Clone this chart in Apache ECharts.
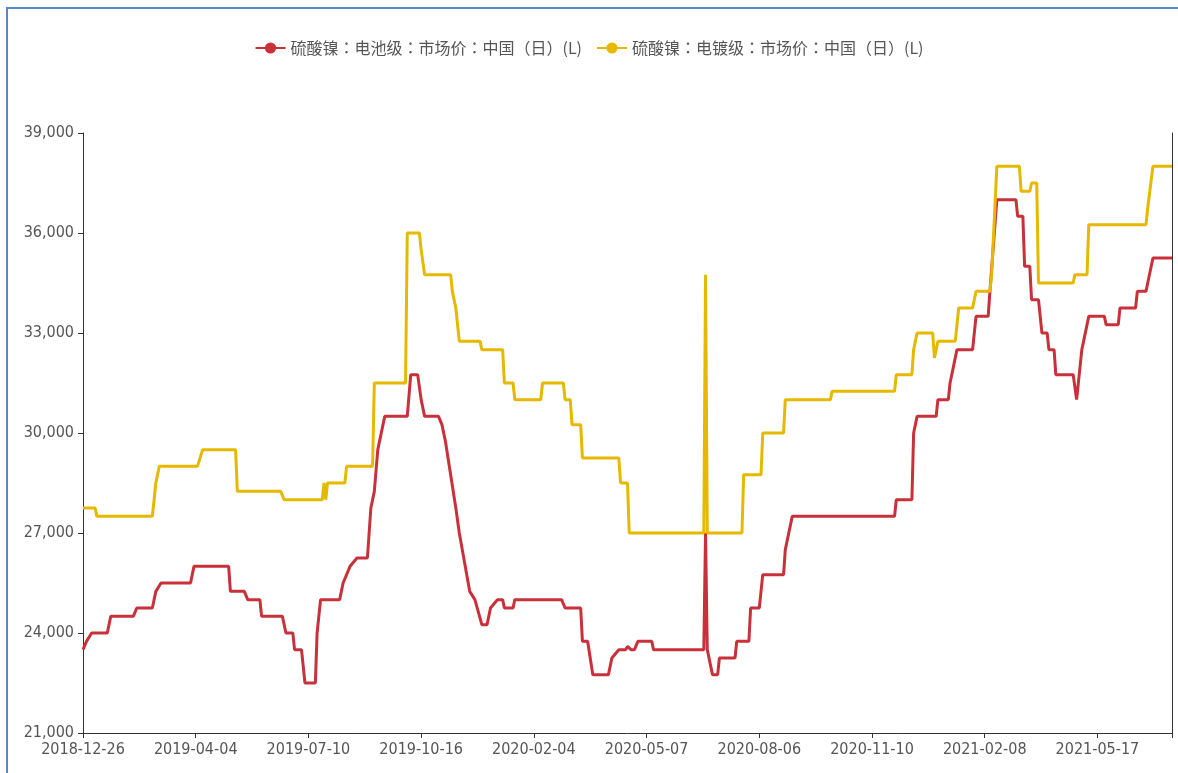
<!DOCTYPE html>
<html>
<head>
<meta charset="utf-8">
<script src="https://cdn.jsdelivr.net/npm/echarts@6/dist/echarts.min.js"></script>
<style>
html,body{margin:0;padding:0;background:#fff;}
#chart{position:absolute;left:0;top:0;width:1178px;height:773px;}
#frame{position:absolute;left:6px;top:7px;width:1200px;height:800px;border-left:2px solid #5b87c7;border-top:2px solid #5b87c7;pointer-events:none;}
</style>
</head>
<body>
<div id="chart"></div>
<div id="frame"></div>
<script>
// x = trading-day index from 2018-12-26; one tick label every 65 days
const tickStep = 65;
const tickLabels = ['2018-12-26','2019-04-04','2019-07-10','2019-10-16','2020-02-04','2020-05-07','2020-08-06','2020-11-10','2021-02-08','2021-05-17'];
const lastIndex = 628;
const seriesNames = ['硫酸镍：电池级：市场价：中国（日）(L)', '硫酸镍：电镀级：市场价：中国（日）(L)'];

// 电池级 [day index, price]
const batteryGrade = [
[0,23500],[2,23750],[5,24000],[14,24000],[16,24500],[29,24500],[31,24750],[40,24750],[42,25250],[43,25250],[45,25500],
[62,25500],[64,26000],[84,26000],[85,25250],[93,25250],[95,25000],[102,25000],[103,24500],[115,24500],[117,24000],
[121,24000],[122,23500],[126,23500],[128,22500],[134,22500],[135,24000],[137,25000],[148,25000],[150,25500],[154,26000],
[158,26250],[164,26250],[166,27750],[168,28250],[170,29500],[172,30000],[174,30500],[187,30500],[189,31750],[193,31750],
[195,31000],[197,30500],[205,30500],[207,30250],[209,29750],[215,27750],[217,27000],[223,25250],[226,25000],[230,24250],
[233,24250],[235,24750],[239,25000],[242,25000],[243,24750],[248,24750],[249,25000],[276,25000],[278,24750],[287,24750],
[288,23750],[291,23750],[294,22750],[303,22750],[305,23250],[309,23500],[313,23500],[314,23600],[316,23500],[318,23500],
[320,23750],[328,23750],[329,23500],[358,23500],[359,27000],[360,23500],[363,22750],[366,22750],[367,23250],[376,23250],
[377,23750],[384,23750],[385,24750],[390,24750],[392,25750],[404,25750],[405,26500],[409,27500],[468,27500],[469,28000],
[478,28000],[479,30000],[481,30500],[492,30500],[493,31000],[499,31000],[500,31500],[504,32500],[513,32500],[515,33500],
[522,33500],[523,34250],[527,37000],[538,37000],[539,36500],[542,36500],[543,35000],[546,35000],[547,34000],[551,34000],
[553,33000],[556,33000],[557,32500],[560,32500],[561,31750],[571,31750],[573,31000],[576,32500],[580,33500],[589,33500],
[590,33250],[597,33250],[598,33750],[607,33750],[608,34250],[613,34250],[614,34500],[617,35250],[628,35250]
];

// 电镀级 [day index, price]
const platingGrade = [
[0,27750],[7,27750],[8,27500],[40,27500],[42,28500],[43,28500],[44,29000],[66,29000],[69,29500],[88,29500],[89,28250],
[114,28250],[116,28000],[138,28000],[139,28500],[140,28000],[141,28500],[151,28500],[152,29000],[167,29000],[168,31500],
[186,31500],[187,36000],[194,36000],[195,35500],[197,34750],[212,34750],[213,34250],[215,33750],[217,32750],[229,32750],
[230,32500],[242,32500],[243,31500],[248,31500],[249,31000],[264,31000],[265,31500],[277,31500],[278,31000],[281,31000],
[282,30250],[287,30250],[288,29250],[309,29250],[310,28500],[314,28500],[315,27000],[358,27000],[359,34750],[360,27000],
[380,27000],[381,28750],[391,28750],[392,30000],[404,30000],[405,31000],[431,31000],[432,31250],[468,31250],[469,31750],
[478,31750],[479,32500],[481,33000],[490,33000],[491,32250],[493,32750],[503,32750],[505,33750],[513,33750],[515,34250],
[523,34250],[524,34750],[527,38000],[540,38000],[541,37250],[546,37250],[547,37500],[550,37500],[551,34500],[571,34500],
[572,34750],[579,34750],[580,36250],[613,36250],[614,36750],[615,36750],[617,38000],[628,38000]
];

const chart = echarts.init(document.getElementById('chart'), null, {renderer:'canvas'});
const cjkFont = '"Noto Sans CJK TC", "Noto Sans CJK SC", sans-serif';
const numFont = '"DejaVu Sans Condensed", "DejaVu Sans", sans-serif';
chart.setOption({
  animation: false,
  backgroundColor: '#fff',
  textStyle: {fontFamily: cjkFont},
  legend: {
    top: 35, left: 'center',
    itemWidth: 30, itemHeight: 14, itemGap: 14,
    textStyle: {color: '#555', fontSize: 16, fontFamily: cjkFont},
    data: seriesNames
  },
  grid: {left: 83, right: 6, top: 133, bottom: 40, containLabel: false},
  xAxis: {
    type: 'value', min: 0, max: lastIndex, interval: tickStep,
    splitLine: {show: false},
    axisLine: {show: true, lineStyle: {color: '#333', width: 1}},
    axisTick: {show: true, length: 5, lineStyle: {color: '#333'}},
    axisLabel: {
      color: '#555', fontSize: 16, margin: 9, fontFamily: numFont,
      showMaxLabel: true,
      formatter: function (v) {
        if (v % tickStep !== 0) return '';
        const i = v / tickStep;
        return tickLabels[i] || '';
      }
    }
  },
  yAxis: [{
    type: 'value', min: 21000, max: 39000, interval: 3000,
    splitLine: {show: false},
    axisLine: {show: true, lineStyle: {color: '#333', width: 1}},
    axisTick: {show: true, length: 5, lineStyle: {color: '#333'}},
    axisLabel: {
      color: '#555', fontSize: 16, margin: 9, fontFamily: numFont,
      formatter: function (v) { return v.toLocaleString('en-US'); }
    }
  }, {
    type: 'value', min: 21000, max: 39000, interval: 3000, position: 'right',
    splitLine: {show: false},
    axisLine: {show: true, lineStyle: {color: '#333', width: 1}},
    axisTick: {show: false},
    axisLabel: {show: false}
  }],
  series: [{
    name: seriesNames[0], type: 'line', data: batteryGrade,
    symbol: 'circle', symbolSize: 12, showSymbol: false,
    itemStyle: {color: '#c8303a'},
    lineStyle: {color: '#c8303a', width: 3}
  }, {
    name: seriesNames[1], type: 'line', data: platingGrade,
    symbol: 'circle', symbolSize: 12, showSymbol: false,
    itemStyle: {color: '#e6b800'},
    lineStyle: {color: '#e6b800', width: 3}
  }]
});
</script>
</body>
</html>
